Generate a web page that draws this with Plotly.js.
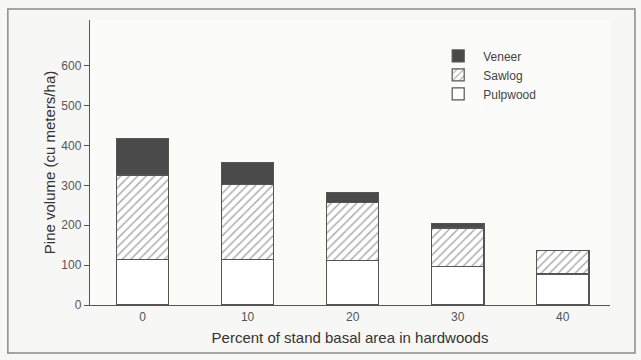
<!DOCTYPE html>
<html>
<head>
<meta charset="utf-8">
<script src="https://cdn.plot.ly/plotly-3.0.1.min.js"></script>
<style>
  html, body { margin: 0; padding: 0; background: #f7f7f5; }
  #chart { width: 641px; height: 360px; }
</style>
</head>
<body>
<div id="chart"></div>
<script>
// Percent of stand basal area in hardwoods
const hardwoodPct = ['0', '10', '20', '30', '40'];
// Pine volume by product class (cu meters/ha)
const pulpwood = [115, 115, 111, 96, 78];
const sawlog   = [211, 188, 147, 97, 58];
const veneer   = [92, 55, 25, 12, 0];

const edge = { color: '#555', width: 1.2 };

const traces = [
  {
    type: 'bar', name: 'Pulpwood', x: hardwoodPct, y: pulpwood,
    marker: { color: '#ffffff', line: edge }
  },
  {
    type: 'bar', name: 'Sawlog', x: hardwoodPct, y: sawlog,
    marker: {
      color: '#ffffff', line: edge,
      pattern: { shape: '/', fgcolor: '#5a5a5a', bgcolor: '#ffffff', size: 6, solidity: 0.25, fillmode: 'overlay' }
    }
  },
  {
    type: 'bar', name: 'Veneer', x: hardwoodPct, y: veneer,
    marker: { color: '#4a4a4a', line: edge }
  }
];

const layout = {
  width: 641, height: 360,
  margin: { l: 90, r: 31, t: 20, b: 55 },
  paper_bgcolor: '#f7f7f5',
  plot_bgcolor: '#fbfbfa',
  barmode: 'stack',
  bargap: 0.5,
  showlegend: true,
  legend: {
    x: 0.66, y: 0.925, xanchor: 'left', yanchor: 'top',
    traceorder: 'reversed',
    bgcolor: 'rgba(0,0,0,0)',
    font: { family: 'Liberation Sans, Arial, sans-serif', size: 12, color: '#444' },
    itemwidth: 40, tracegroupgap: 0
  },
  font: { family: 'Liberation Sans, Arial, sans-serif', color: '#444' },
  xaxis: {
    type: 'category',
    range: [-0.5, 4.45],
    showline: true, linecolor: '#555', linewidth: 1.2,
    ticks: '', showgrid: false, zeroline: false,
    tickfont: { size: 12, color: '#555' },
    title: { text: 'Percent of stand basal area in hardwoods', font: { size: 15, color: '#333' }, standoff: 10 }
  },
  yaxis: {
    range: [0, 715],
    tickvals: [0, 100, 200, 300, 400, 500, 600],
    showline: true, linecolor: '#555', linewidth: 1.2,
    ticks: 'outside', ticklen: 5, tickcolor: '#555',
    showgrid: false, zeroline: false,
    tickfont: { size: 12, color: '#555' },
    title: { text: 'Pine volume (cu meters/ha)', font: { size: 15, color: '#333' }, standoff: 2 }
  },
  shapes: [
    {
      type: 'rect', xref: 'paper', yref: 'paper',
      x0: -0.158, x1: 1.048, y0: -0.168, y1: 1.0386,
      line: { color: '#8a8a8a', width: 1.5 }, fillcolor: 'rgba(0,0,0,0)', layer: 'below'
    }
  ]
};

Plotly.newPlot('chart', traces, layout, { staticPlot: true, displayModeBar: false });
</script>
</body>
</html>
